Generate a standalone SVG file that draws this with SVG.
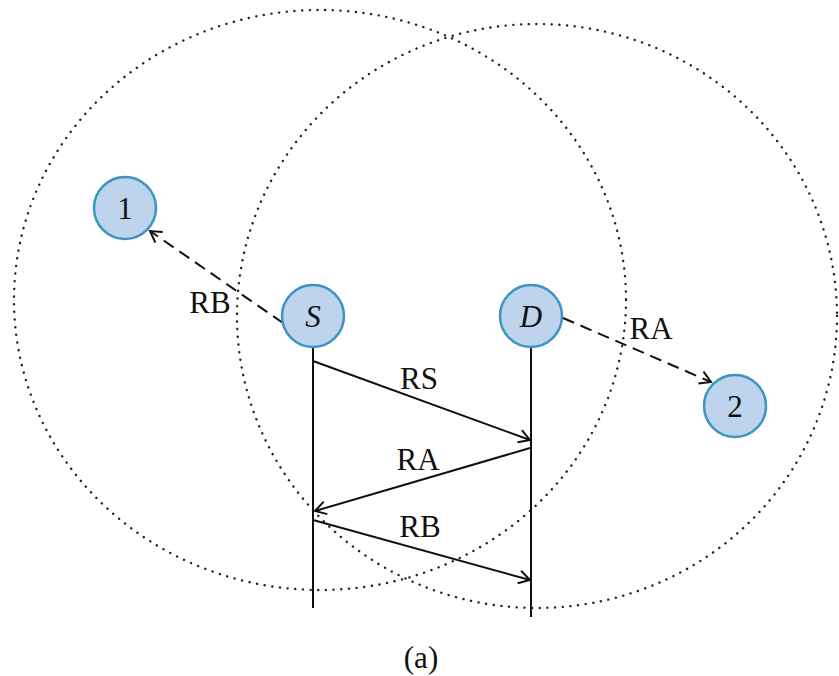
<svg xmlns="http://www.w3.org/2000/svg" width="839" height="676" viewBox="0 0 839 676">
<defs>
<style>
.range{fill:none;stroke:#222;stroke-width:2.4;stroke-dasharray:0.1 7.6;stroke-linecap:round}
.node circle{fill:#bdd4ec;stroke:#3b95c0;stroke-width:2.5}
.node text,.lbl{font-family:"Liberation Serif",serif;font-size:31px;fill:#111;text-anchor:middle}
.it{font-style:italic}
.life{stroke:#111;stroke-width:2;fill:none}
.msg{stroke:#111;stroke-width:2;fill:none;marker-end:url(#arr)}
.dash{stroke:#111;stroke-width:2;fill:none;stroke-dasharray:12 7;marker-end:url(#arr)}
</style>
<marker id="arr" markerWidth="16" markerHeight="16" refX="13" refY="8" orient="auto" markerUnits="userSpaceOnUse">
<path d="M2,1.5 L13,8 L2,14.5" fill="none" stroke="#111" stroke-width="2"/>
</marker>
</defs>
<rect width="839" height="676" fill="#fff"/>
<g id="ranges">
<ellipse class="range" cx="320" cy="300" rx="306" ry="290"/>
<ellipse class="range" cx="537" cy="316" rx="300" ry="292"/>
</g>
<g id="connectors">
<line class="life" x1="313" y1="347" x2="313" y2="608"/>
<line class="life" x1="531" y1="347" x2="531" y2="617"/>
<line class="msg" x1="313" y1="361" x2="530" y2="440"/>
<line class="msg" x1="530" y1="448" x2="315" y2="511"/>
<line class="msg" x1="313" y1="520" x2="530" y2="580"/>
<line class="dash" x1="283" y1="323" x2="150" y2="231"/>
<line class="dash" x1="563" y1="318" x2="711" y2="382"/>
</g>
<g id="labels">
<text class="lbl" x="210" y="313">RB</text>
<text class="lbl" x="651" y="339">RA</text>
<text class="lbl" x="419" y="389">RS</text>
<text class="lbl" x="418" y="470">RA</text>
<text class="lbl" x="420" y="537">RB</text>
<text class="lbl" x="421" y="668">(a)</text>
</g>
<g id="node-1" class="node"><circle cx="125" cy="208" r="31"/><text x="125" y="219">1</text></g>
<g id="node-S" class="node"><circle cx="313" cy="316" r="31"/><text class="it" x="313" y="327">S</text></g>
<g id="node-D" class="node"><circle cx="531" cy="316" r="31"/><text class="it" x="531" y="327">D</text></g>
<g id="node-2" class="node"><circle cx="735" cy="406" r="31"/><text x="735" y="417">2</text></g>
</svg>
